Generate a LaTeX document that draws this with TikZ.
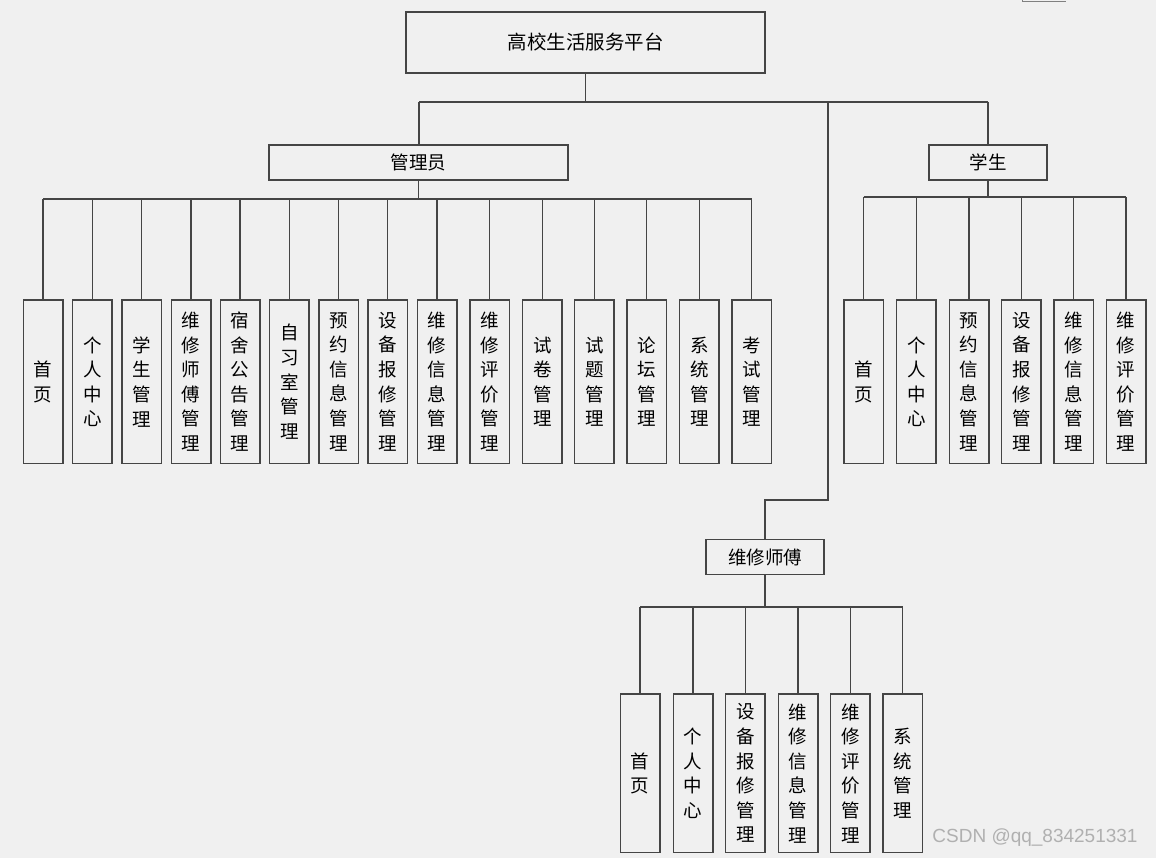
\documentclass[tikz,border=0pt]{standalone}
\usepackage{fontspec}
\newfontfamily\cjk{Noto Sans CJK SC}
\setsansfont{Liberation Sans}
\definecolor{bg}{HTML}{F0F0F0}
\definecolor{ln}{HTML}{454545}
\definecolor{wm}{HTML}{B0B0B0}
\begin{document}
\begin{tikzpicture}[x=1pt,y=-1pt,
  box/.style={draw=ln,line width=1.5pt,fill=bg,inner sep=0pt,font=\cjk\fontsize{18.5}{20}\selectfont},
  leaf/.style={box,minimum width=39.5pt,minimum height=163.3pt,align=center,font=\cjk\fontsize{18.5}{24.6}\selectfont},
  conn/.style={draw=ln,line width=1.5pt}]
\fill[bg] (0,0) rectangle (1156,858);
\useasboundingbox (0,0) rectangle (1156,858);
\draw[gray,line width=1pt] (1022,0) -- (1022,2) -- (1066,2);

% top
\node[box,minimum width=359pt,minimum height=61pt,font=\cjk\fontsize{19.5}{20}\selectfont] (root) at (585.5,42.5) {高校生活服务平台};
\node[box,minimum width=299pt,minimum height=35pt] (admin) at (418.5,162.5) {管理员};
\node[box,minimum width=118pt,minimum height=35pt] (stu) at (988,162.5) {学生};
\node[box,minimum width=118pt,minimum height=35pt] (rep) at (765,557) {维修师傅};

\coordinate (j0) at (585.5,102);
\coordinate (ja) at (419,102);
\coordinate (js) at (988,102);
\coordinate (jr) at (828,102);
\coordinate (jr1) at (828,500);
\coordinate (jr2) at (765,500);

\draw[conn] (root.south) -- (j0);
\draw[conn] (ja) -- (js);
\draw[conn] (ja) -- (ja |- admin.north);
\draw[conn] (js) -- (stu.north);
\draw[conn] (jr) -- (jr1) -- (jr2) -- (rep.north);

% admin leaves
\foreach \x/\t [count=\i] in {43/首\\页, 92.3/个\\人\\中\\心, 141.7/学\\生\\管\\理, 191/维\\修\\师\\傅\\管\\理, 240/宿\\舍\\公\\告\\管\\理, 289.3/自\\习\\室\\管\\理, 338.7/预\\约\\信\\息\\管\\理, 387.7/设\\备\\报\\修\\管\\理, 437/维\\修\\信\\息\\管\\理, 489.7/维\\修\\评\\价\\管\\理, 542.3/试\\卷\\管\\理, 594.3/试\\题\\管\\理, 646.7/论\\坛\\管\\理, 699.3/系\\统\\管\\理, 751.7/考\\试\\管\\理}{
  \node[leaf] (a\i) at (\x,381.7) {\t};
  \draw[conn] (a\i.north) -- (\x,199);
}
\coordinate (ab) at (admin.south |- 0,199);
\draw[conn] (admin.south) -- (ab);
\draw[conn] (a1.north |- ab) -- (a15.north |- ab);

% student leaves
\foreach \x/\t [count=\i] in {863.7/首\\页, 916.3/个\\人\\中\\心, 969/预\\约\\信\\息\\管\\理, 1021.3/设\\备\\报\\修\\管\\理, 1073.7/维\\修\\信\\息\\管\\理, 1126/维\\修\\评\\价\\管\\理}{
  \node[leaf] (s\i) at (\x,381.7) {\t};
  \draw[conn] (s\i.north) -- (\x,197);
}
\coordinate (sb) at (988,197);
\draw[conn] (stu.south) -- (sb);
\draw[conn] (s1.north |- sb) -- (s6.north |- sb);

% repair leaves
\foreach \x/\t [count=\i] in {640/首\\页, 693/个\\人\\中\\心, 745.3/设\\备\\报\\修\\管\\理, 798/维\\修\\信\\息\\管\\理, 850.3/维\\修\\评\\价\\管\\理, 902.7/系\\统\\管\\理}{
  \node[leaf,minimum height=158.7pt] (r\i) at (\x,773.3) {\t};
  \draw[conn] (r\i.north) -- (\x,607);
}
\coordinate (rb) at (765,607);
\draw[conn] (rep.south) -- (rb);
\draw[conn] (r1.north |- rb) -- (r6.north |- rb);

\node[font=\sffamily\fontsize{19}{20}\selectfont,text=wm,inner sep=0pt] (wmk) at (1035,838) {CSDN @qq\_834251331};
\end{tikzpicture}
\end{document}
